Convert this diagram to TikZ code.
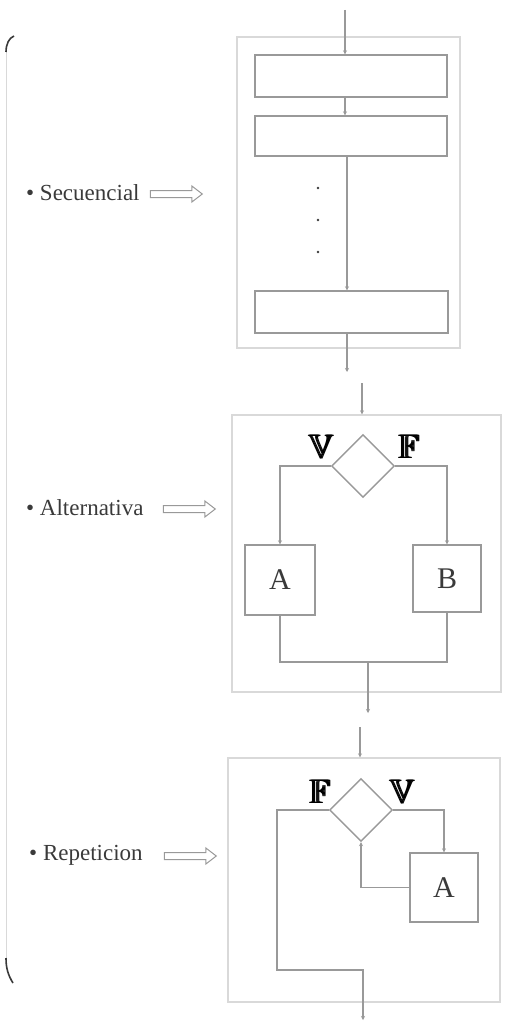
\documentclass[tikz,border=0pt]{standalone}
\usepackage{fontspec}
\usepackage{amssymb}
\setmainfont{Liberation Serif}
\usetikzlibrary{shapes.geometric}
\usetikzlibrary{shapes.arrows}
\usetikzlibrary{arrows.meta}

\definecolor{flowgray}{HTML}{999999}
\definecolor{framegray}{HTML}{D9D9D9}
\definecolor{inkgray}{HTML}{3A3A3A}
\newcommand{\heavy}[1]{\rlap{#1}\hspace{0.9pt}\rlap{#1}\hspace{0.9pt}#1}

\begin{document}
\begin{tikzpicture}[x=1pt, y=-1pt,
    frame/.style={draw=framegray, line width=1.3pt, inner sep=0},
    instr/.style={draw=flowgray, line width=1.4pt, inner sep=0, text=inkgray,
      font=\fontsize{30}{30}\selectfont},
    cond/.style={draw=flowgray, line width=1.4pt, diamond, inner sep=0,
      minimum width=63, minimum height=63},
    flow/.style={draw=flowgray, line width=1.4pt, -{Stealth[length=4pt, width=4pt]}},
    line/.style={draw=flowgray, line width=1.4pt},
    kind/.style={anchor=west, text=inkgray, inner sep=0, font=\fontsize{23}{26}\selectfont},
    hollow/.style={draw=flowgray, line width=1pt, single arrow, inner sep=3pt,
      minimum height=52, single arrow head extend=4.5pt, single arrow tip angle=75},
    truth/.style={text=black, inner sep=0, font=\fontsize{34}{34}\selectfont}]
  \useasboundingbox (0,0) rectangle (508,1025);
  % brace on the left
  \draw[framegray, line width=1pt] (6,52) -- (6,958);
  \draw[inkgray, line width=1.6pt] (14,36) .. controls (9,38) and (6,44) .. (6,52);
  \draw[inkgray, line width=1.6pt] (6,958) .. controls (6,968) and (8,975) .. (13,983);

  % secuencial
  \node[kind] (sqlabel) at (26,193) {\textbullet\ Secuencial};
  \node[hollow] (sqarrow) at (174,194) {};
  \node[frame, minimum width=223, minimum height=311] (sqframe) at (348.5,192.5) {};
  \node[instr, minimum width=192, minimum height=42] (s1) at (351,76) {};
  \node[instr, minimum width=192, minimum height=40] (s2) at (351,136) {};
  \node[instr, minimum width=193, minimum height=42] (s3) at (351.5,312) {};
  \coordinate (sqin) at (345,10);
  \coordinate (sqmid) at (347,156);
  \coordinate (sqout) at (347,372);
  \draw[flow] (sqin) -- (s1.north -| sqin);
  \draw[flow] (s1.south -| sqin) -- (s2.north -| sqin);
  \draw[flow] (sqmid) -- (s3.north -| sqmid);
  \draw[flow] (s3.south -| sqout) -- (sqout);
  \foreach \y in {188,220,252}
    \fill[inkgray] (318,\y) circle (1.3);

  % alternativa
  \node[kind] (allabel) at (26,508) {\textbullet\ Alternativa};
  \node[hollow] (alarrow) at (187,509) {};
  \node[frame, minimum width=269, minimum height=277] (alframe) at (366.5,553.5) {};
  \node[cond] (al) at (363,466) {};
  \node[instr, minimum width=70, minimum height=70] (alA) at (280,580) {A};
  \node[instr, minimum width=68, minimum height=67] (alB) at (447,578.5) {B};
  \node[truth] (alV) at (321,447) {\heavy{$\mathbb{V}$}};
  \node[truth] (alF) at (409,447) {\heavy{$\mathbb{F}$}};
  \coordinate (alin) at (362,383);
  \coordinate (almerge) at (368,662);
  \coordinate (alout) at (368,713);
  \draw[flow] (alin) -- (alframe.north -| alin);
  \draw[flow] (al.west) -| (alA.north);
  \draw[flow] (al.east) -| (alB.north);
  \draw[line] (alA.south) |- (almerge) -| (alB.south);
  \draw[flow] (almerge) -- (alout);

  % repeticion
  \node[kind] (rplabel) at (29,855) {\textbullet\ Repeticion};
  \node[hollow] (rparrow) at (188,856) {};
  \node[frame, minimum width=272, minimum height=244] (rpframe) at (364,880) {};
  \node[cond] (rp) at (361,810) {};
  \node[instr, minimum width=68, minimum height=69] (rpA) at (444,887.5) {A};
  \node[truth] (rpF) at (320,792) {\heavy{$\mathbb{F}$}};
  \node[truth] (rpV) at (402,792) {\heavy{$\mathbb{V}$}};
  \coordinate (rpin) at (360,727);
  \coordinate (rpcorner) at (277,970);
  \coordinate (rpout) at (363,1020);
  \draw[flow] (rpin) -- (rpframe.north -| rpin);
  \draw[flow] (rp.east) -| (rpA.north);
  \draw[flow] (rpA.west) -| (rp.south);
  \draw[flow] (rp.west) -| (rpcorner) -| (rpout);
\end{tikzpicture}
\end{document}
